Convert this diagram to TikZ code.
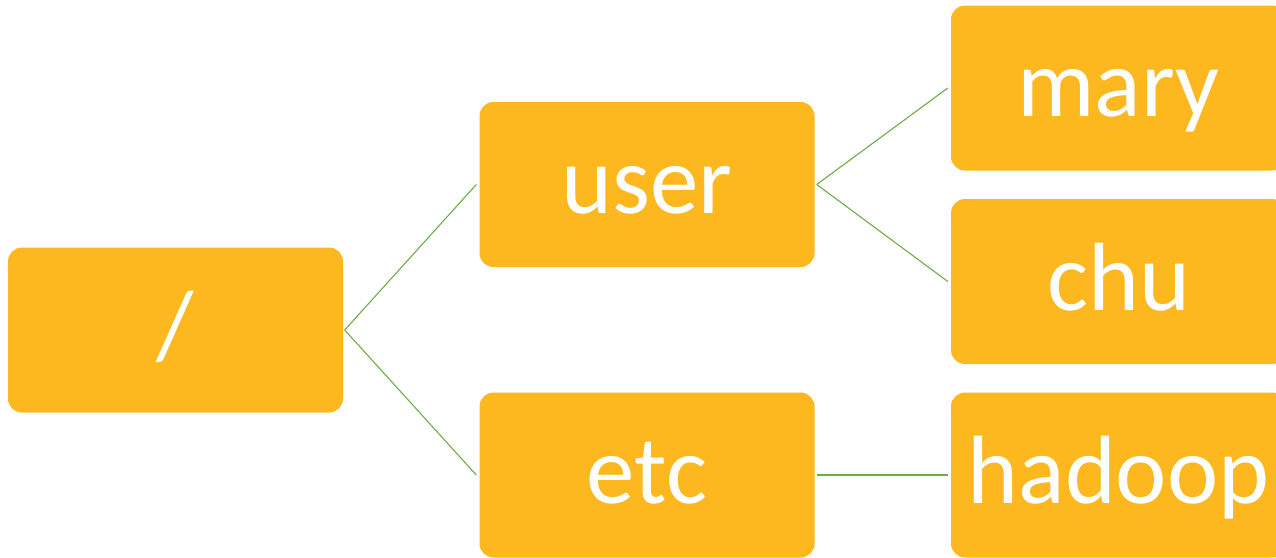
\documentclass[tikz,border=0pt]{standalone}
\usepackage{fontspec}
\setmainfont{Carlito}
\definecolor{boxfill}{RGB}{252,184,30}
\definecolor{linkgreen}{RGB}{112,173,71}
\begin{document}
\begin{tikzpicture}[x=1pt,y=-1pt,
  dirbox/.style={fill=boxfill, draw=none, rounded corners=14pt,
    minimum width=335pt, minimum height=165pt, inner sep=0pt,
    text=white, font=\fontsize{97}{97}\selectfont,
    text height=57pt, text depth=0pt},
  link/.style={draw=linkgreen, line width=1.1pt}]
\useasboundingbox[fill=white] (0,0) rectangle (1276,557);
\node[dirbox] (root) at (175.5,330) {/};
\node[dirbox] (user) at (647,184.5) {user};
\node[dirbox] (etc) at (647,475) {etc};
\node[dirbox] (mary) at (1118.5,88) {mary};
\node[dirbox] (chu) at (1118.5,281.5) {chu};
\node[dirbox] (hadoop) at (1118.5,475) {hadoop};
\draw[link] ([xshift=1.5pt]root.east) -- ([xshift=-3pt]user.west);
\draw[link] ([xshift=1.5pt]root.east) -- ([xshift=-3pt]etc.west);
\draw[link] ([xshift=2pt]user.east) -- ([xshift=-3pt]mary.west);
\draw[link] ([xshift=2pt]user.east) -- ([xshift=-3pt]chu.west);
\draw[link] ([xshift=2pt]etc.east) -- ([xshift=-3pt]hadoop.west);
\end{tikzpicture}
\end{document}
